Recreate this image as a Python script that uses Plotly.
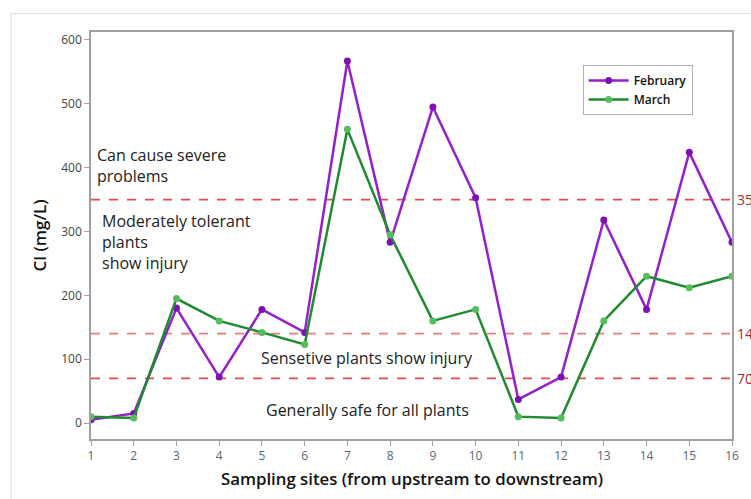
import plotly.graph_objects as go

sites = list(range(1, 17))
february = [5, 15, 180, 72, 178, 142, 567, 283, 495, 353, 37, 72, 318, 178, 424, 283]
march = [10, 8, 195, 160, 142, 123, 460, 295, 160, 178, 10, 8, 160, 230, 212, 230]
thresholds = [350, 140, 70]
threshold_labels = ["350", "140", "70"]
x_ticks = list(range(1, 17))
y_ticks = [0, 100, 200, 300, 400, 500, 600]

FONT = "Open Sans, Noto Sans, sans-serif"

fig = go.Figure()
fig.add_trace(go.Scatter(
    x=sites, y=february, name="February", mode="lines+markers",
    line=dict(color="#9420cc", width=2.5),
    marker=dict(color="#7d12b4", size=7),
))
fig.add_trace(go.Scatter(
    x=sites, y=march, name="March", mode="lines+markers",
    line=dict(color="#1f8a30", width=2.5),
    marker=dict(color="#55bd5e", size=7),
))

# guideline thresholds with labels on the right
for val, lab in zip(thresholds, threshold_labels):
    fig.add_shape(type="line", xref="x", yref="y", x0=1, x1=16, y0=val, y1=val,
                  line=dict(color="#e8474c" if val != 140 else "#ee7a7e", width=1.8, dash="dash"),
                  layer="below")
    fig.add_annotation(x=1, xref="paper", y=val, yref="y", text=lab, showarrow=False,
                       xanchor="left", xshift=3, font=dict(family=FONT, size=14, color="#a8282e"))

# zone descriptions
zones = [
    (1.1, 404, "Can cause severe<br>problems", "left"),
    (1.2, 284, "Moderately tolerant<br>plants<br>show injury", "left"),
    (7.47, 102, "Sensetive plants show injury", "center"),
    (7.47, 20, "Generally safe for all plants", "center"),
]
for zx, zy, txt, anc in zones:
    fig.add_annotation(x=zx, y=zy, xref="x", yref="y", text=txt, showarrow=False,
                       xanchor=anc, yanchor="middle", align="left",
                       font=dict(family=FONT, size=16, color="#222222"))

# axis titles
fig.add_annotation(x=0.5, xref="paper", y=-0.098, yref="paper", showarrow=False,
                   text="Sampling sites (from upstream to downstream)",
                   xanchor="center", yanchor="middle",
                   font=dict(family=FONT, size=16.8, color="#111111", weight=600))
fig.add_annotation(x=-0.0796, xref="paper", y=0.5, yref="paper", showarrow=False,
                   text="Cl (mg/L)", textangle=-90,
                   xanchor="center", yanchor="middle",
                   font=dict(family=FONT, size=17, color="#111111", weight=600))

# light outer frame
fig.add_shape(type="rect", xref="paper", yref="paper", x0=-0.125, x1=1.2, y0=-0.2, y1=1.045,
              line=dict(color="#dddddd", width=1), fillcolor="rgba(0,0,0,0)", layer="below")

fig.update_layout(
    width=751, height=499,
    margin=dict(l=91, r=19, t=32, b=60, autoexpand=False),
    paper_bgcolor="white", plot_bgcolor="white",
    font=dict(family=FONT),
    legend=dict(x=0.767, y=0.919, xanchor="left", yanchor="top",
                bordercolor="#b0b0b0", borderwidth=1, bgcolor="white",
                font=dict(family=FONT, size=12, color="#111111", weight=600),
                tracegroupgap=0, itemwidth=40),
    xaxis=dict(range=[1, 16], tickmode="array", tickvals=x_ticks, automargin=False,
               showgrid=False, zeroline=False, showline=True, mirror=True,
               linecolor="#a0a0a0", linewidth=1.5, ticks="outside", ticklen=5,
               tickcolor="#a0a0a0", tickfont=dict(family=FONT, size=12, color="#5b6675")),
    yaxis=dict(range=[-25, 612.5], tickmode="array", tickvals=y_ticks, automargin=False,
               showgrid=False, zeroline=False, showline=True, mirror=True,
               linecolor="#a0a0a0", linewidth=1.5, ticks="outside", ticklen=5,
               tickcolor="#a0a0a0", tickfont=dict(family=FONT, size=12, color="#444444")),
    showlegend=True,
)

fig.write_html("out.html")
